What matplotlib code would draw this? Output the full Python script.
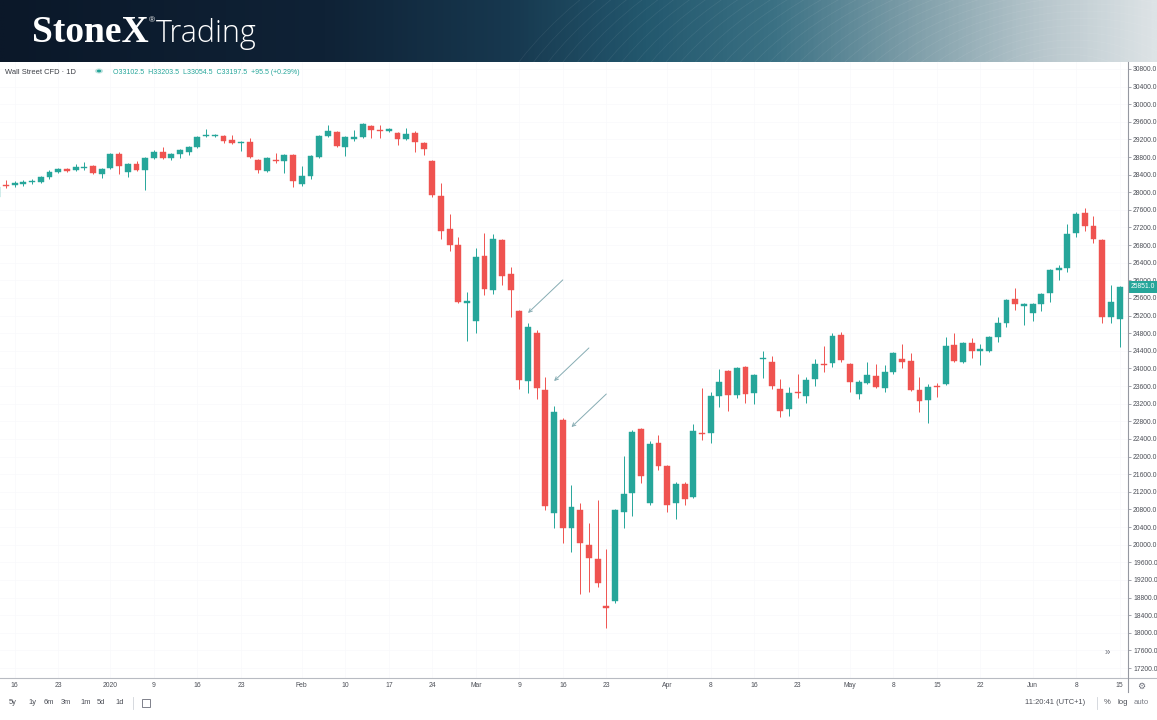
import numpy as np
import pandas as pd
import matplotlib
matplotlib.use("Agg")
import matplotlib.pyplot as plt
from matplotlib.patches import Rectangle, Ellipse, Circle
from matplotlib.lines import Line2D
from matplotlib.colors import LinearSegmentedColormap
from matplotlib.transforms import blended_transform_factory

# ---------------- data ----------------
holidays = ["2019-12-25", "2020-01-01", "2020-04-10"]
dates = pd.bdate_range("2019-12-12", "2020-06-15")
dates = dates[~dates.isin(pd.to_datetime(holidays))]

opens = [27892, 28165, 28165, 28187, 28233, 28233, 28346, 28460, 28528, 28505,
         28550, 28596, 28414, 28550, 28868, 28460, 28641, 28505, 28777, 28914,
         28777, 28868, 28914, 29027, 29277, 29277, 29277, 29186, 29118, 29141,
         28732, 28482, 28732, 28709, 28846, 28187, 28369, 28800, 29277, 29368,
         29027, 29209, 29254, 29504, 29413, 29390, 29345, 29209, 29345, 29118,
         28709, 27915, 27166, 26803, 25486, 25077, 26553, 25781, 26916, 26144,
         25304, 23715, 24805, 23511, 20719, 22830, 20378, 20787, 19993, 19675,
         18608, 18721, 20742, 21173, 22626, 20946, 22308, 21786, 20946, 21377,
         21082, 22535, 22535, 23375, 23942, 23398, 24033, 23443, 24215, 24147,
         23534, 23080, 23466, 23375, 23761, 24101, 24124, 24760, 24101, 23420,
         23670, 23829, 23556, 23920, 24215, 24169, 23511, 23284, 23602, 23647,
         24533, 24147, 24578, 24396, 24396, 24714, 25032, 25577, 25418, 25259,
         25463, 25713, 26235, 26280, 27075, 27529, 27234, 26916, 25168, 25123]
highs = [28142, 28278, 28255, 28278, 28301, 28369, 28505, 28550, 28550, 28641,
         28687, 28619, 28550, 28891, 28914, 28664, 28709, 28800, 28959, 29027,
         28891, 28982, 29050, 29277, 29436, 29322, 29300, 29300, 29163, 29231,
         28755, 28800, 28891, 28868, 28868, 28596, 28846, 29300, 29527, 29390,
         29277, 29413, 29572, 29527, 29527, 29458, 29368, 29458, 29390, 29141,
         28732, 28210, 27506, 26984, 25736, 26734, 27075, 27052, 26939, 26303,
         25327, 25032, 24873, 23806, 23148, 22875, 21355, 20946, 20492, 21014,
         19902, 20810, 22013, 22603, 22648, 22353, 22490, 21809, 21423, 21423,
         22739, 23556, 23466, 23988, 23965, 24033, 24056, 23874, 24396, 24283,
         23761, 23579, 23874, 23806, 24215, 24510, 24805, 24828, 24124, 23738,
         24147, 24101, 24079, 24374, 24555, 24351, 23806, 23647, 23670, 24714,
         24805, 24601, 24691, 24555, 24737, 25168, 25577, 25826, 25486, 25486,
         25713, 26258, 26349, 27279, 27552, 27642, 27461, 26939, 25895, 25880]
lows = [27847, 28096, 28119, 28142, 28187, 28210, 28301, 28437, 28460, 28482,
        28505, 28414, 28323, 28528, 28414, 28346, 28482, 28051, 28755, 28755,
        28732, 28777, 28846, 29004, 29254, 29254, 29118, 29095, 28936, 28777,
        28437, 28460, 28664, 28437, 28119, 28142, 28301, 28777, 29254, 29027,
        28823, 29163, 29231, 29231, 29231, 29368, 29073, 29186, 28914, 28846,
        27892, 26939, 26666, 25486, 24623, 24805, 25668, 25690, 25895, 25168,
        23534, 23443, 23307, 20787, 20378, 20038, 19834, 18880, 18926, 19039,
        18108, 18676, 20378, 20651, 21400, 20901, 21695, 20742, 20583, 20901,
        21059, 22376, 22308, 23125, 23034, 23329, 23216, 23193, 23783, 23534,
        22898, 22921, 23329, 23216, 23602, 23920, 24033, 24147, 23466, 23307,
        23647, 23556, 23466, 23874, 24010, 23488, 23012, 22762, 23352, 23625,
        24147, 24124, 24237, 24079, 24374, 24601, 24941, 25327, 24987, 25077,
        25304, 25509, 26008, 26190, 26984, 27120, 26848, 25032, 25032, 24487]
closes = [28119, 28142, 28210, 28233, 28255, 28346, 28460, 28528, 28482, 28573,
          28573, 28437, 28528, 28868, 28596, 28641, 28505, 28777, 28914, 28777,
          28868, 28959, 29027, 29254, 29300, 29300, 29163, 29118, 29141, 28800,
          28505, 28777, 28709, 28846, 28255, 28369, 28823, 29277, 29390, 29050,
          29254, 29254, 29549, 29413, 29390, 29436, 29209, 29322, 29141, 28982,
          27938, 27120, 26803, 25509, 25531, 26530, 25804, 26939, 26099, 25781,
          23738, 24941, 23556, 20878, 23012, 20378, 20855, 20038, 19697, 19130,
          18562, 20787, 21150, 22558, 21559, 22285, 21786, 20901, 21377, 21037,
          22580, 22512, 23375, 23693, 23398, 24010, 23420, 23852, 24237, 23602,
          23034, 23443, 23443, 23738, 24101, 24079, 24737, 24192, 23693, 23693,
          23852, 23579, 23920, 24351, 24147, 23511, 23261, 23579, 23579, 24510,
          24169, 24578, 24396, 24442, 24714, 25032, 25554, 25463, 25463, 25463,
          25690, 26235, 26280, 27052, 27506, 27234, 26939, 25168, 25509, 25851]

# time-axis labels
tick_dates = ["2019-12-16", "2019-12-23", "2020-01-02", "2020-01-09", "2020-01-16",
              "2020-01-23", "2020-02-03", "2020-02-10", "2020-02-17", "2020-02-24",
              "2020-03-02", "2020-03-09", "2020-03-16", "2020-03-23", "2020-04-01",
              "2020-04-08", "2020-04-16", "2020-04-23", "2020-05-01", "2020-05-08",
              "2020-05-15", "2020-05-22", "2020-06-01", "2020-06-08", "2020-06-15"]
tick_labels = ["16", "23", "2020", "9", "16", "23", "Feb", "10", "17", "24",
               "Mar", "9", "16", "23", "Apr", "8", "16", "23", "May", "8",
               "15", "22", "Jun", "8", "15"]
price_ticks = list(range(17200, 30801, 400))

# annotation arrows (bar tip, price tip)
arrow_tip_bars = ["2020-03-10", "2020-03-13", "2020-03-17"]
arrow_tip_prices = [25260, 23715, 22670]

title_text = "Wall Street CFD · 1D"
ohlc_text = "O33102.5  H33203.5  L33054.5  C33197.5  +95.5 (+0.29%)"
last_price_text = "25851.0"

# ---------------- styling ----------------
UP = "#26a69a"
DOWN = "#ef5350"
TXT = "#4c4f57"
FONT = ["Liberation Sans", "DejaVu Sans"]
plt.rcParams["font.family"] = FONT

W, H = 1157, 720
fig = plt.figure(figsize=(W / 100, H / 100), dpi=100, facecolor="white")

# ---------------- banner ----------------
bh = 62
bax = fig.add_axes([0, 1 - bh / H, 1, bh / H])
bax.set_xlim(0, W)
bax.set_ylim(bh, 0)
bax.axis("off")
cmap = LinearSegmentedColormap.from_list(
    "banner",
    [(0.0, "#0b1829"), (0.28, "#0f2236"), (0.44, "#17384f"), (0.56, "#23586e"),
     (0.67, "#3b7184"), (0.79, "#7e9ea9"), (0.9, "#b7c6cc"), (1.0, "#dde3e6")])
grad = np.tile(np.linspace(0, 1, 600), (20, 1))
bax.imshow(grad, cmap=cmap, aspect="auto", extent=[0, W, bh, 0], zorder=0)
for r in range(0, 34):
    e = Ellipse((1060, 130), 200 + r * 30, 150 + r * 14, angle=-8, fill=False,
                edgecolor="white", lw=0.5, alpha=0.08, zorder=1)
    bax.add_patch(e)
fig.text(32 / W, 1 - 42 / H, "StoneX", color="white", fontsize=27,
         fontweight="bold", family=["Liberation Serif", "DejaVu Serif"],
         va="baseline", ha="left")
fig.text(149 / W, 1 - 22 / H, "®", color="white", fontsize=6, va="baseline", ha="left")
fig.text(156 / W, 1 - 42 / H, "Trading", color="white", fontsize=22,
         family=["Open Sans", "Lato", "DejaVu Sans"], fontweight="light",
         va="baseline", ha="left")

# ---------------- chart ----------------
ax_right = 1128
ax_bottom = 678
ax_top = bh
ax = fig.add_axes([0, 1 - ax_bottom / H, ax_right / W, (ax_bottom - ax_top) / H])
ax.set_facecolor("white")

n = len(dates)
x = np.arange(n)
o = np.array(opens, float)
h = np.array(highs, float)
l = np.array(lows, float)
c = np.array(closes, float)
up = c >= o
cols = np.where(up, UP, DOWN)

ax.vlines(x, l, h, colors=cols, lw=0.7, zorder=3)
body_bottom = np.minimum(o, c)
body_h = np.maximum(np.abs(c - o), 25)
ax.bar(x, body_h, bottom=body_bottom, width=0.68, color=cols, edgecolor=cols,
       linewidth=0.3, zorder=4)

ylo = 32364 - 22.70 * ax_bottom
yhi = 32364 - 22.70 * ax_top
ax.set_ylim(ylo, yhi)
ax.set_xlim((0 + 2.7) / 8.7, (ax_right + 2.7) / 8.7)

date_index = {d.strftime("%Y-%m-%d"): i for i, d in enumerate(dates)}
tick_pos = [date_index[d] for d in tick_dates]
ax.set_xticks(tick_pos)
ax.set_xticklabels(tick_labels)
ax.set_yticks(price_ticks)
ax.set_yticklabels([f"{p:.1f}" for p in price_ticks])
ax.yaxis.tick_right()
ax.tick_params(axis="y", direction="out", length=2.5, width=0.6, color="#9598a1",
               pad=1.2, labelsize=4.9, labelcolor=TXT)
ax.tick_params(axis="x", length=0, pad=3.2, labelsize=4.9, labelcolor=TXT)
ax.grid(True, color="#f8f9fb", lw=0.5, zorder=0)
for s in ax.spines.values():
    s.set_visible(False)

# arrows
for d, p in zip(arrow_tip_bars, arrow_tip_prices):
    xi = date_index[d]
    ax.annotate("", xy=(xi, p), xytext=(xi + 4, p + 750),
                arrowprops=dict(arrowstyle="->", color="#86acb3", lw=0.7,
                                mutation_scale=6, shrinkA=0, shrinkB=0),
                zorder=5)

# last price label
bt = blended_transform_factory(ax.transAxes, ax.transData)
ax.add_patch(Rectangle((1.0, c[-1] - 140), 29 / ax_right, 280, transform=bt,
                       facecolor=UP, edgecolor="none", clip_on=False, zorder=10))
ax.text(1.0 + 3 / ax_right, c[-1], last_price_text, transform=bt, color="white",
        fontsize=4.9, va="center", ha="left", zorder=11, clip_on=False)

# legend line
fig.text(5 / W, 1 - 72 / H, title_text, color="#3b3e45", fontsize=5.4,
         va="center", ha="left")
fig.add_artist(Circle((99 / W, 1 - 71 / H), 0.0035, transform=fig.transFigure,
                      facecolor="#bfe3df", edgecolor="none"))
fig.add_artist(Circle((99 / W, 1 - 71 / H), 0.0019, transform=fig.transFigure,
                      facecolor=UP, edgecolor="none"))
fig.text(113 / W, 1 - 72 / H, ohlc_text, color=UP, fontsize=5.0,
         va="center", ha="left")

# scroll button
fig.text(1107 / W, 1 - 652 / H, "»", color="#6a6d78", fontsize=7, va="center", ha="center")

# frame lines
fig.add_artist(Line2D([0, 1], [1 - ax_bottom / H] * 2, transform=fig.transFigure,
                      color="#b8bbc2", lw=0.8))
fig.add_artist(Line2D([ax_right / W] * 2, [1 - ax_top / H, 1 - 692 / H],
                      transform=fig.transFigure, color="#9598a1", lw=0.8))
fig.text(1141 / W, 1 - 686 / H, "⚙", color="#6a6d78", fontsize=6.5,
         family=["DejaVu Sans"], va="center", ha="center")

# bottom toolbar
tb = [("5y", 9), ("1y", 28), ("6m", 44), ("3m", 61), ("1m", 80), ("5d", 97), ("1d", 115)]
for lab, px in tb:
    fig.text(px / W, 1 - 703 / H, lab, color=TXT, fontsize=5.4, va="center", ha="left")
fig.add_artist(Line2D([133 / W] * 2, [1 - 697 / H, 1 - 709 / H],
                      transform=fig.transFigure, color="#d0d3d9", lw=0.6))
fig.add_artist(Rectangle((142 / W, 1 - 707 / H), 8 / W, 8 / H, transform=fig.transFigure,
                         fill=False, edgecolor="#6a6d78", lw=0.6))
fig.text(1025 / W, 1 - 703 / H, "11:20:41 (UTC+1)", color=TXT, fontsize=5.4,
         va="center", ha="left")
fig.add_artist(Line2D([1097 / W] * 2, [1 - 697 / H, 1 - 709 / H],
                      transform=fig.transFigure, color="#d0d3d9", lw=0.6))
fig.text(1104 / W, 1 - 703 / H, "%", color=TXT, fontsize=5.6, va="center", ha="left")
fig.text(1117 / W, 1 - 703 / H, "log", color=TXT, fontsize=5.6, va="center", ha="left")
fig.text(1134 / W, 1 - 703 / H, "auto", color="#7a7d86", fontsize=5.6, va="center", ha="left")

fig.savefig("out.png", dpi=100, facecolor="white")
